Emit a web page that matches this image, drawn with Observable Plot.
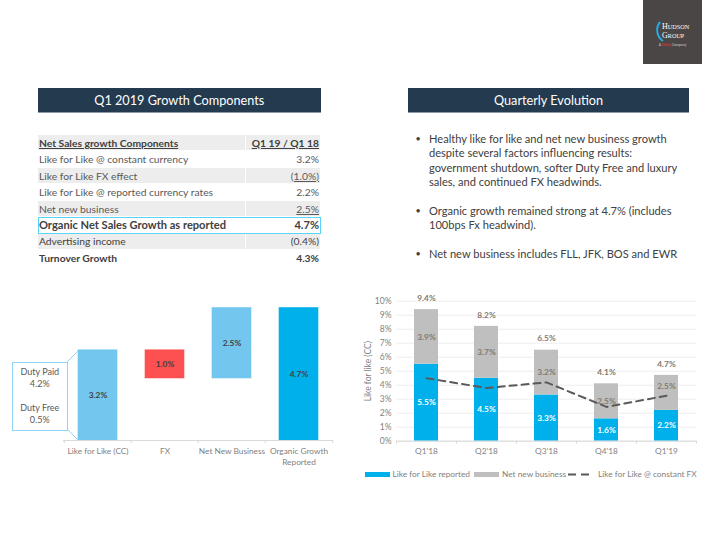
<!DOCTYPE html>
<html><head><meta charset="utf-8">
<script src="https://cdn.jsdelivr.net/npm/d3@7"></script>
<script src="https://cdn.jsdelivr.net/npm/@observablehq/plot@0.6"></script>
<style>
html,body{margin:0;padding:0;background:#fff;width:720px;height:540px;overflow:hidden}
body{font-family:Lato,"Open Sans",sans-serif;position:relative;color:#595959}
.abs{position:absolute}
.hdr{background:#243a4f;color:#fff;font-size:12.7px;text-align:center;line-height:24px;height:24px;top:88px;border-bottom:1px solid #8a9aa8;box-sizing:content-box}
.row{position:absolute;left:38px;width:282px;height:16.5px;font-size:10.3px;line-height:16.5px}
.row .l{position:absolute;left:0;top:0;width:206px;height:15.5px;padding-left:1px;white-space:nowrap}
.row .r{position:absolute;left:208px;top:0;width:73px;height:15.5px;text-align:right;padding-right:1px}
.row.sh .l,.row.sh .r{background:#ededed}
.bul{position:absolute;left:429px;width:262px;font-size:11.1px;line-height:14.4px;color:#404040}
.dot{position:absolute;left:415.5px;font-size:9px;line-height:14.4px;color:#404040}
.plot{position:absolute}
.plot svg{display:block;overflow:visible;background:transparent}
.leg{position:absolute;top:469px;font-size:8.3px;line-height:10px;color:#7f7f7f;white-space:nowrap}
.sw{position:absolute;top:472px;height:5px;width:25px}
</style></head><body>
<div id="root"></div>
<script>
const rowLabels = ["Net Sales growth Components","Like for Like @ constant currency","Like for Like FX effect","Like for Like @ reported currency rates","Net new business","Organic Net Sales Growth as reported","Advertising income","Turnover Growth"];
const rowValues = ["Q1 19 / Q1 18","3.2%","(1.0%)","2.2%","2.5%","4.7%","(0.4%)","4.3%"];
const bullets = [
 "Healthy like for like and net new business growth<br>despite several factors influencing results:<br>government shutdown, softer Duty Free and luxury<br>sales, and continued FX headwinds.",
 "Organic growth remained strong at 4.7% (includes<br>100bps Fx headwind).",
 "Net new business includes FLL, JFK, BOS and EWR"];

const wfCats = ["Like for Like (CC)","FX","Net New Business","Organic Growth\nReported"];
const wfStart = [0,3.2,2.2,0];
const wfEnd = [3.2,2.2,4.7,4.7];
const wfLabels = ["3.2%","1.0%","2.5%","4.7%"];
const wfColors = ["#73c6ee","#fd5050","#73c6ee","#00b0ea"];

const quarters = ["Q1'18","Q2'18","Q3'18","Q4'18","Q1'19"];
const reported = [5.5,4.5,3.3,1.6,2.2];
const newBiz = [3.9,3.7,3.2,2.5,2.5];
const totals = [9.4,8.2,6.5,4.1,4.7];
const constantFx = [4.5,3.8,4.2,2.45,3.25];

const root = document.getElementById("root");
function add(html){ root.insertAdjacentHTML("beforeend",html); }

// logo
add(`<div class="abs" style="left:643px;top:0;width:59px;height:64px;background:#4a4645"></div>
<svg class="abs" style="left:643px;top:0" width="59" height="64">
<path d="M17 22 A13 13 0 0 0 20 41" fill="none" stroke="#29a9e0" stroke-width="2"/>
<text x="19" y="29" font-family="Liberation Serif" font-size="8" fill="#fff">H<tspan font-size="6.2">UDSON</tspan></text>
<text x="19" y="37.5" font-family="Liberation Serif" font-size="8" fill="#fff">G<tspan font-size="6.2">ROUP</tspan></text>
<text x="29.5" y="46" text-anchor="middle" font-size="3.5" fill="#ccc">A <tspan fill="#e33">Dufry</tspan> Company</text>
</svg>`);

add(`<div class="abs hdr" style="left:38px;width:282.5px">Q1 2019 Growth Components</div>`);
add(`<div class="abs hdr" style="left:408px;width:281px">Quarterly Evolution</div>`);

const rowTops = [134.5,151,167.5,184,200.5,217,233,249.5];
const shaded = [0,2,4,6];
rowLabels.forEach((t,i)=>{
  const strong = i===0||i===5||i===7;
  const under = i===0;
  const col = strong||i===6?"#404040":"#595959";
  const fs = i===5?"font-size:11.1px;":"";
  const fw = strong?"font-weight:700;":"";
  const vu = (i===0||i===2||i===4)?"text-decoration:underline;":"";
  add(`<div class="row ${shaded.includes(i)?"sh":""}" style="top:${rowTops[i]}px;color:${col};${fs}${fw}">
   <div class="l" style="${under?"text-decoration:underline;":""}">${t}</div>
   <div class="r" style="${vu}">${rowValues[i]}</div></div>`);
});
add(`<div class="abs" style="left:37.5px;top:216.5px;width:281.5px;height:15px;border:1px solid #5ad4f5"></div>`);

const bulTops = [132,204,247];
bullets.forEach((b,i)=>{
  add(`<div class="dot" style="top:${bulTops[i]}px">•</div><div class="bul" style="top:${bulTops[i]}px;white-space:nowrap">${b}</div>`);
});

// waterfall
const wf = wfCats.map((c,i)=>({c,a:wfStart[i],b:wfEnd[i],l:wfLabels[i],col:wfColors[i]}));
const band1 = 67.5;
const p1 = Plot.plot({
  width:350,height:190,marginLeft:63,marginRight:17,marginTop:17.5,marginBottom:40,
  style:{fontFamily:"Lato",background:"transparent",overflow:"visible"},
  x:{domain:wfCats,paddingInner:0.42,paddingOuter:0.21,align:0.5,label:null},
  y:{domain:[0,4.7],label:null,axis:null},
  marks:[
    Plot.barY(wf,{x:"c",y1:"a",y2:"b",fill:"col",stroke:"col",strokeOpacity:0.6}),
    Plot.ruleY([0],{stroke:"#d9d9d9",strokeWidth:1}),
    Plot.ruleX(wfCats,{x:d=>d,y1:0,y2:0,insetBottom:-3,dx:-band1/2,stroke:"#d9d9d9"}),
    Plot.ruleX(wfCats.slice(-1),{x:d=>d,y1:0,y2:0,insetBottom:-3,dx:band1/2,stroke:"#d9d9d9"}),
    Plot.text(wf,{x:"c",y:d=>(d.a+d.b)/2,text:"l",fill:"#404040",fontWeight:700,fontSize:8.3}),
    Plot.axisX({tickSize:0,tickPadding:6,fontSize:8.3,lineHeight:1.3,color:"#7f7f7f",label:null,textOverflow:null,lineAnchor:"top"})
  ]
});
p1.classList.add("plot"); p1.style.left="0px"; p1.style.top="290px";
root.appendChild(p1);

// callout
add(`<svg class="abs" style="left:60px;top:345px" width="22" height="100"><path d="M7 17 L18 6 M7 84 L18 95" stroke="#8fd6f5" stroke-width="1" fill="none"/></svg>`);
add(`<div class="abs" style="left:12px;top:361.5px;width:53.5px;height:67px;border:1.5px solid #8fd6f5;background:#fff;font-size:9px;line-height:12px;text-align:center;color:#595959;box-sizing:content-box">
<div style="margin-top:3px">Duty Paid<br>4.2%</div><div style="margin-top:12px">Duty Free<br>0.5%</div></div>`);

// quarterly
const qData = quarters.map((q,i)=>({q,rep:reported[i],nb:newBiz[i],tot:totals[i],fx:constantFx[i]}));
const p2 = Plot.plot({
  width:350,height:190,marginLeft:36,marginRight:14,marginTop:15.7,marginBottom:34.3,
  style:{fontFamily:"Lato",background:"transparent",overflow:"visible"},
  x:{domain:quarters,paddingInner:0.6,paddingOuter:0.3,align:0.5,label:null},
  y:{domain:[0,10],label:null},
  marks:[
    Plot.ruleY(d3.range(0,11),{stroke:"#eeeeee",strokeWidth:1}),
    Plot.barY(qData,{x:"q",y1:0,y2:"rep",fill:"#00b0ea"}),
    Plot.barY(qData,{x:"q",y1:"rep",y2:d=>d.rep+d.nb,fill:"#bfbfbf"}),
    Plot.ruleY([0],{stroke:"#d9d9d9"}),
    Plot.ruleX(quarters,{x:d=>d,y1:0,y2:0,insetBottom:-3,dx:-30,stroke:"#d9d9d9"}),
    Plot.ruleX(quarters.slice(-1),{x:d=>d,y1:0,y2:0,insetBottom:-3,dx:30,stroke:"#d9d9d9"}),
    Plot.line(qData,{x:"q",y:"fx",stroke:"#595959",strokeWidth:2,strokeDasharray:"7 5"}),
    Plot.text(qData,{x:"q",y:d=>d.rep/2,text:d=>d.rep.toFixed(1)+"%",fill:"#fff",fontWeight:700,fontSize:8.3}),
    Plot.text(qData,{x:"q",y:d=>d.q==="Q1'19"?3.93:d.rep+d.nb/2,text:d=>d.nb.toFixed(1)+"%",fill:"#7f7a70",fontWeight:700,fontSize:8.3}),
    Plot.text(qData,{x:"q",y:"tot",dy:-11.5,text:d=>d.tot.toFixed(1)+"%",fill:"#7f7a70",fontWeight:700,fontSize:8.3}),
    Plot.axisX({tickSize:0,tickPadding:7,fontSize:8.3,color:"#7f7f7f",label:null}),
    Plot.axisY({ticks:d3.range(0,11),tickFormat:d=>d+"%",tickSize:0,tickPadding:5,fontSize:8.5,color:"#7f7f7f",label:"Like for like (CC)",labelAnchor:"center",labelArrow:"none",labelOffset:32})
  ]
});
p2.classList.add("plot"); p2.style.left="360px"; p2.style.top="285px";
root.appendChild(p2);

// legend
add(`<div class="sw" style="left:365px;background:#00b0ea"></div><div class="leg" style="left:392.5px">Like for Like reported</div>
<div class="sw" style="left:474px;background:#bfbfbf"></div><div class="leg" style="left:502px">Net new business</div>
<svg class="abs" style="left:568px;top:472px" width="26" height="5"><line x1="0" x2="25" y1="2.5" y2="2.5" stroke="#595959" stroke-width="2" stroke-dasharray="8 5"/></svg>
<div class="leg" style="left:598px">Like for Like @ constant FX</div>`);
</script>
</body></html>
